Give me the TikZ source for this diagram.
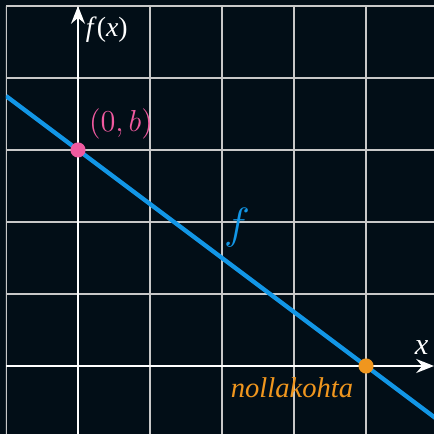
\documentclass[tikz,border=0pt]{standalone}
\usepackage{fontspec}
\setmainfont{Liberation Serif}
\usetikzlibrary{arrows.meta}
\definecolor{bg}{RGB}{2,14,23}
\definecolor{gridc}{RGB}{200,200,200}
\definecolor{lineblue}{RGB}{18,150,230}
\definecolor{dotpink}{RGB}{240,90,160}
\definecolor{dotorange}{RGB}{240,150,30}
\tikzset{
  gridline/.style={gridc, line width=0.45pt},
  axisline/.style={white, line width=0.8pt, -{Stealth[length=7pt,width=5.5pt]}},
  fline/.style={lineblue, line width=1.7pt},
  dotnode/.style={circle, inner sep=0pt, minimum size=0.21cm},
  lbl/.style={inner sep=0pt}
}
\begin{document}
\begin{tikzpicture}
\fill[bg] (-1.0833,-0.9444) rectangle (4.9444,5.0833);
\useasboundingbox (-1.0833,-0.9444) rectangle (4.9444,5.0833);
\begin{scope}
\clip (-1,-0.9444) rectangle (4.9444,5);
\foreach \i in {-1,...,4} \draw[gridline] (\i,-1) -- (\i,5);
\foreach \j in {1,...,5} \draw[gridline] (-1,\j) -- (5,\j);
\draw[fline] (-1,3.75) -- (5,-0.75);
\end{scope}
\coordinate (xs) at (-1,0);
\coordinate (xe) at (4.9444,0);
\coordinate (ys) at (0,-0.9444);
\coordinate (ye) at (0,5);
\draw[axisline] (xs) -- (xe);
\draw[axisline] (ys) -- (ye);
\node[dotnode, fill=dotpink] (b) at (0,3) {};
\node[dotnode, fill=dotorange] (z) at (4,0) {};
\node[lbl, white, font=\fontsize{11}{13}\selectfont] (fx) at (0.40,4.667) {\textit{f}(\textit{x})};
\node[lbl, dotpink, font=\fontsize{12}{14}\selectfont] (bl) at (0.597,3.368) {$(0,b)$};
\node[lbl, lineblue, font=\fontsize{16}{18}\selectfont] (fl) at (2.208,1.917) {$f$};
\node[lbl, dotorange, anchor=base, font=\fontsize{11.3}{13}\selectfont] (nk) at (2.972,-0.431) {\textit{nollakohta}};
\node[lbl, white, font=\fontsize{12}{14}\selectfont] (xl) at (4.771,0.257) {\textit{x}};
\end{tikzpicture}
\end{document}
